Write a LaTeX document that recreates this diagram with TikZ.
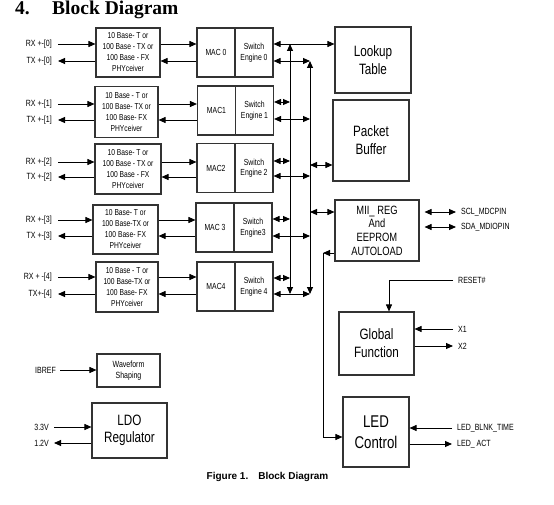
\documentclass[tikz,border=0pt]{standalone}
\usepackage{fontspec}
\setmainfont{Liberation Sans}[FakeStretch=0.78]
\newfontfamily\titlefont{Liberation Serif}
\newfontfamily\capfont{Liberation Sans}
\usetikzlibrary{arrows.meta}
\tikzset{
  box/.style={draw=black!80, line width=1.1pt, rectangle, inner sep=0pt, align=center},
  phy/.style={box, font=\fontsize{8.6}{11}\selectfont},
  mac/.style={box, minimum width=38pt, minimum height=49pt, font=\fontsize{8.8}{10.5}\selectfont},
  big/.style={box, font=\fontsize{15}{18}\selectfont},
  lbl/.style={inner sep=0pt, font=\fontsize{9}{10}\selectfont},
  pinl/.style={inner sep=0pt, anchor=west, font=\fontsize{9}{10}\selectfont},
  ln/.style={line width=0.9pt},
  ar/.style={ln, -{Triangle[length=7pt,width=6pt]}},
  dar/.style={ln, {Triangle[length=7pt,width=6pt]}-{Triangle[length=7pt,width=6pt]}},
}
\begin{document}
\begin{tikzpicture}[x=1pt,y=-1pt]
\useasboundingbox (0,0) rectangle (554,505);
\fill[white] (0,0) rectangle (554,505);
% title
\node[inner sep=0pt, anchor=base west, font=\titlefont\bfseries\fontsize{19.5}{20}\selectfont] (tnum) at (15,15) {4.};
\node[inner sep=0pt, anchor=base west, font=\titlefont\bfseries\fontsize{19.5}{20}\selectfont] (ttl) at (52,15) {Block Diagram};
% PHY boxes
\node[phy, minimum width=64pt, minimum height=49pt] (phy0) at (128,52.5) {10 Base- T or\\100 Base - TX or\\100 Base - FX\\PHYceiver};
\node[phy, minimum width=63pt, minimum height=51pt] (phy1) at (126.5,112) {10 Base - T or\\100 Base- TX or\\100 Base- FX\\PHYceiver};
\node[phy, minimum width=66pt, minimum height=50pt] (phy2) at (128,169) {10 Base- T or\\100 Base - TX or\\100 Base - FX\\PHYceiver};
\node[phy, minimum width=65pt, minimum height=49pt] (phy3) at (125.5,229.5) {10 Base- T or\\100 Base-TX or\\100 Base- FX\\PHYceiver};
\node[phy, minimum width=62pt, minimum height=50pt] (phy4) at (127,287) {10 Base - T or\\100 Base-TX or\\100 Base- FX\\PHYceiver};
% MAC and switch engines
\node[mac] (mac0) at (216,52.5) {MAC 0};
\node[mac] (se0) at (254,52.5) {Switch\\Engine 0};
\node[mac] (mac1) at (216.5,110.5) {MAC1};
\node[mac] (se1) at (254.5,110.5) {Switch\\Engine 1};
\node[mac] (mac2) at (216,168) {MAC2};
\node[mac] (se2) at (254,168) {Switch\\Engine 2};
\node[mac] (mac3) at (215,227.5) {MAC 3};
\node[mac] (se3) at (253,227.5) {Switch\\Engine3};
\node[mac] (mac4) at (216,286.5) {MAC4};
\node[mac] (se4) at (254,286.5) {Switch\\Engine 4};
% right blocks
\node[big, minimum width=76pt, minimum height=66pt] (lut) at (373,60) {Lookup\\Table};
\node[big, minimum width=76pt, minimum height=81pt] (pkt) at (371,140.5) {Packet\\Buffer};
\node[box, minimum width=84pt, minimum height=61pt, font=\fontsize{12}{13.7}\selectfont] (mii) at (377,230.5) {MII\_ REG\\And\\EEPROM\\AUTOLOAD};
\node[big, minimum width=75pt, minimum height=63pt] (glob) at (376.5,343.5) {Global\\Function};
\node[box, minimum width=66pt, minimum height=70pt, font=\fontsize{17}{21}\selectfont] (led) at (376,432) {LED\\Control};
% bottom-left blocks
\node[box, minimum width=63pt, minimum height=33pt, font=\fontsize{9}{11}\selectfont] (wav) at (128.5,370.5) {Waveform\\Shaping};
\node[big, minimum width=75pt, minimum height=55pt, font=\fontsize{15}{17}\selectfont] (ldo) at (129.5,430.5) {LDO\\Regulator};
% left labels and PHY/MAC connectors
\foreach \i/\ry/\ty/\rl/\tl in {0/44/61/RX +-[0]/TX +-[0], 1/104/120/RX +-[1]/TX +-[1], 2/162/177/RX +-[2]/TX +-[2], 3/220/236/RX +-[3]/TX +-[3], 4/277/294/RX + -[4]/TX+-[4]}{
  \node[lbl, anchor=east] (rxl\i) at (52,\ry) {\rl};
  \node[lbl, anchor=east] (txl\i) at (52,\ty) {\tl};
  \coordinate (rxs\i) at (58,\ry);
  \coordinate (txe\i) at (58,\ty);
  \draw[ar] (rxs\i) -- (phy\i.west|-rxs\i);
  \draw[ar] (phy\i.west|-txe\i) -- (txe\i);
  \draw[ar] (phy\i.east|-rxs\i) -- (mac\i.west|-rxs\i);
  \draw[ar] (mac\i.west|-txe\i) -- (phy\i.east|-txe\i);
}
% buses
\coordinate (bAt) at (290,44);
\coordinate (bAb) at (290,294);
\coordinate (bBt) at (310,61);
\coordinate (bBb) at (310,294);
\draw[dar] (bAb) -- (bAt);
\draw[dar] (bBb) -- (bBt);
\draw[dar] (se0.east|-bAt) -- (lut.west|-bAt);
\draw[dar] (se0.east|-bBt) -- (bBt);
\foreach \i/\ry/\ty in {1/102/119, 2/161/176, 3/219/236}{
  \coordinate (ua\i) at (0,\ry);
  \coordinate (ub\i) at (0,\ty);
  \draw[dar] (se\i.east|-ua\i) -- (bAt|-ua\i);
  \draw[dar] (se\i.east|-ub\i) -- (bBt|-ub\i);
}
\coordinate (ua4) at (0,278);
\draw[dar] (se4.east|-ua4) -- (bAt|-ua4);
\draw[dar] (se4.east|-bBb) -- (bBb);
% bus B to buffer and MII
\coordinate (pbY) at (0,165);
\coordinate (miY) at (0,212);
\draw[dar] (bBt|-pbY) -- (pkt.west|-pbY);
\draw[dar] (bBt|-miY) -- (mii.west|-miY);
% MII pins
\node[pinl] (scl) at (461,212) {SCL\_MDCPIN};
\node[pinl] (sda) at (461,227) {SDA\_MDIOPIN};
\draw[dar] ([xshift=5pt]mii.east|-scl) -- ([xshift=-5pt]scl.west);
\draw[dar] ([xshift=5pt]mii.east|-sda) -- ([xshift=-5pt]sda.west);
% MII to LED
\coordinate (vt) at (323,253);
\coordinate (vb) at (323,437);
\draw[ar] (mii.west|-vt) -- (vt);
\draw[ar] (vt) -- (vb) -- (led.west|-vb);
% global function
\node[pinl] (rst) at (458,280) {RESET\#};
\coordinate (rstc) at (389,280);
\draw[ar] ([xshift=-5pt]rst.west) -- (rstc) -- (glob.north-|rstc);
\node[pinl] (x1) at (458,329) {X1};
\node[pinl] (x2) at (458,346) {X2};
\draw[ar] ([xshift=-5pt]x1.west) -- (glob.east|-x1);
\draw[ar] (glob.east|-x2) -- ([xshift=-5pt]x2.west);
% LED pins
\node[pinl] (blnk) at (457,428) {LED\_BLNK\_TIME};
\node[pinl] (act) at (457,444) {LED\_ ACT};
\draw[ar] ([xshift=-5pt]blnk.west) -- (led.east|-blnk);
\draw[ar] (led.east|-act) -- ([xshift=-5pt]act.west);
% waveform and LDO
\node[lbl, anchor=east] (ibref) at (56,370) {IBREF};
\draw[ar] ([xshift=4pt]ibref.east) -- (wav.west|-ibref);
\node[lbl, anchor=east] (v33) at (49,427) {3.3V};
\node[lbl, anchor=east] (v12) at (49,443) {1.2V};
\draw[ar] ([xshift=5pt]v33.east) -- (ldo.west|-v33);
\draw[ar] (ldo.west|-v12) -- ([xshift=5pt]v12.east);
% caption
\node[inner sep=0pt, font=\capfont\bfseries\fontsize{10}{12}\selectfont] (cap) at (267.5,477) {Figure 1.\quad Block Diagram};
\end{tikzpicture}
\end{document}
